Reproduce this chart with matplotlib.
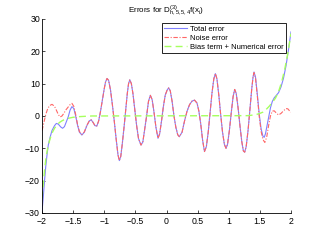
import matplotlib.pyplot as plt

plt.rcParams['font.family'] = ['Liberation Sans', 'DejaVu Sans']
plt.rcParams['mathtext.fontset'] = 'custom'
plt.rcParams['mathtext.rm'] = 'Liberation Sans'
plt.rcParams['mathtext.it'] = 'Liberation Sans'

# Total error (blue)
x_total = [-2.00, -1.98, -1.96, -1.94, -1.92, -1.90, -1.87, -1.84, -1.80, -1.77,
           -1.74, -1.70, -1.67, -1.64, -1.61, -1.58, -1.55, -1.52, -1.49, -1.46,
           -1.43, -1.40, -1.36, -1.32, -1.28, -1.24, -1.21, -1.18, -1.15, -1.12,
           -1.09, -1.06, -1.03, -1.00, -0.98, -0.956, -0.93, -0.90, -0.87, -0.84,
           -0.81, -0.78, -0.758, -0.735, -0.71, -0.68, -0.655, -0.63, -0.61, -0.59,
           -0.565, -0.54, -0.51, -0.48, -0.45, -0.41, -0.38, -0.35, -0.32, -0.29,
           -0.26, -0.23, -0.20, -0.17, -0.137, -0.11, -0.08, -0.05, -0.02, 0.01,
           0.035, 0.06, 0.09, 0.12, 0.15, 0.18, 0.206, 0.25, 0.29, 0.33,
           0.37, 0.41, 0.45, 0.49, 0.52, 0.55, 0.58, 0.61, 0.64, 0.67,
           0.70, 0.73, 0.76, 0.785, 0.81, 0.84, 0.87, 0.90, 0.93, 0.956,
           0.98, 1.01, 1.04, 1.07, 1.095, 1.12, 1.15, 1.18, 1.21, 1.235,
           1.256, 1.28, 1.31, 1.34, 1.37, 1.39, 1.406, 1.43, 1.46, 1.49,
           1.52, 1.55, 1.57, 1.59, 1.62, 1.65, 1.67, 1.70, 1.73, 1.77,
           1.80, 1.84, 1.88, 1.92, 1.96, 2.00]
y_total = [-29.5, -25.0, -20.0, -15.5, -12.0, -9.0, -6.5, -4.5, -3.0, -2.3,
           -2.5, -3.4, -3.8, -3.3, -1.8, -0.3, 1.8, 2.9, 2.3, 0.0,
           -2.8, -5.0, -5.9, -5.0, -3.0, -1.5, -1.2, -2.0, -3.0, -3.1,
           -1.5, 1.5, 5.0, 8.5, 10.5, 11.6, 11.0, 8.0, 3.5, -1.5,
           -7.0, -12.0, -13.8, -12.5, -8.5, -3.0, 2.0, 7.0, 10.0, 11.2,
           10.0, 7.0, 2.0, -3.0, -7.0, -9.0, -8.0, -4.0, 0.0, 4.5,
           6.4, 5.0, 1.0, -3.5, -6.9, -5.5, -1.5, 3.0, 6.5, 8.0,
           8.7, 7.8, 4.5, 0.0, -3.5, -5.8, -6.4, -5.0, -1.5, 1.5,
           3.5, 4.6, 4.9, 4.0, 1.5, -2.5, -7.5, -11.0, -9.5, -5.0,
           1.0, 7.0, 11.5, 13.1, 11.5, 6.5, 0.5, -5.0, -8.8, -10.0,
           -8.8, -4.5, 1.0, 6.0, 8.2, 7.0, 2.5, -3.0, -8.0, -10.8,
           -11.2, -9.5, -4.5, 2.0, 8.5, 12.0, 13.6, 12.0, 6.5, 0.5,
           -4.0, -6.3, -6.6, -5.5, -2.5, 0.5, 2.5, 4.5, 5.6, 6.5,
           7.2, 9.0, 11.7, 15.5, 20.5, 26.0]

# Noise error (red, dash-dot)
x_noise = [-2.00, -1.97, -1.94, -1.91, -1.88, -1.84, -1.80, -1.77, -1.74, -1.71,
           -1.68, -1.65, -1.62, -1.58, -1.55, -1.52, -1.49, -1.46, -1.43, -1.40,
           -1.36, -1.32, -1.28, -1.24, -1.21, -1.18, -1.15, -1.12, -1.09, -1.06,
           -1.03, -1.00, -0.98, -0.956, -0.93, -0.90, -0.87, -0.84, -0.81, -0.78,
           -0.758, -0.735, -0.71, -0.68, -0.655, -0.63, -0.61, -0.59, -0.565, -0.54,
           -0.51, -0.48, -0.45, -0.41, -0.38, -0.35, -0.32, -0.29, -0.26, -0.23,
           -0.20, -0.17, -0.137, -0.11, -0.08, -0.05, -0.02, 0.01, 0.035, 0.06,
           0.09, 0.12, 0.15, 0.18, 0.206, 0.25, 0.29, 0.33, 0.37, 0.41,
           0.45, 0.49, 0.52, 0.55, 0.58, 0.61, 0.64, 0.67, 0.70, 0.73,
           0.76, 0.785, 0.81, 0.84, 0.87, 0.90, 0.93, 0.956, 0.98, 1.01,
           1.04, 1.07, 1.095, 1.12, 1.15, 1.18, 1.21, 1.235, 1.256, 1.28,
           1.31, 1.34, 1.37, 1.39, 1.406, 1.43, 1.46, 1.49, 1.52, 1.55,
           1.58, 1.61, 1.64, 1.67, 1.70, 1.73, 1.76, 1.80, 1.84, 1.88,
           1.92, 1.95, 1.98, 2.00]
y_noise = [-4.5, -2.0, 0.5, 2.2, 3.2, 3.6, 3.0, 1.8, 0.5, -0.3,
           0.0, 0.8, 1.8, 2.8, 3.5, 3.9, 3.0, 0.5, -2.6, -4.8,
           -5.7, -4.9, -2.9, -1.5, -1.2, -2.0, -3.0, -3.1, -1.5, 1.5,
           5.0, 8.5, 10.5, 11.6, 11.0, 8.0, 3.5, -1.5, -7.0, -12.0,
           -13.8, -12.5, -8.5, -3.0, 2.0, 7.0, 10.0, 11.2, 10.0, 7.0,
           2.0, -3.0, -7.0, -9.0, -8.0, -4.0, 0.0, 4.5, 6.4, 5.0,
           1.0, -3.5, -6.9, -5.5, -1.5, 3.0, 6.5, 8.0, 8.7, 7.8,
           4.5, 0.0, -3.5, -5.8, -6.4, -5.0, -1.5, 1.5, 3.5, 4.6,
           4.9, 4.0, 1.5, -2.5, -7.5, -11.0, -9.5, -5.0, 1.0, 7.0,
           11.5, 13.1, 11.5, 6.5, 0.5, -5.0, -8.8, -10.0, -8.8, -4.5,
           1.0, 6.0, 8.2, 7.0, 2.5, -3.0, -8.0, -10.8, -11.2, -9.5,
           -4.5, 2.0, 8.5, 12.0, 13.4, 11.7, 6.0, -0.2, -4.8, -7.3,
           -8.2, -6.5, -3.0, 0.0, 1.5, 1.6, 1.0, 0.3, 0.8, 1.6,
           2.3, 2.2, 1.5, 1.2]

# Bias term + Numerical error (green, dashed)
x_bias = [-2.00, -1.98, -1.96, -1.94, -1.92, -1.90, -1.87, -1.84, -1.80, -1.76,
          -1.72, -1.68, -1.64, -1.60, -1.55, -1.50, -1.45, -1.40, -1.30, -1.20,
          1.30, 1.40, 1.45, 1.50, 1.55, 1.60, 1.65, 1.70, 1.75, 1.80,
          1.85, 1.90, 1.95, 2.00]
y_bias = [-25.5, -21.0, -17.0, -13.5, -11.0, -9.0, -7.0, -5.3, -3.8, -2.8,
          -2.0, -1.5, -1.1, -0.8, -0.6, -0.4, -0.3, -0.2, -0.1, 0.0,
          0.1, 0.3, 0.5, 0.8, 1.2, 2.0, 3.0, 4.2, 5.5, 7.5,
          10.5, 14.5, 19.5, 25.5]

plt.figure(figsize=(3.21, 2.42), dpi=100)
ax = plt.axes([0.131, 0.12, 0.7755, 0.8015])
ax.plot(x_total, y_total, color='#8080ff', lw=0.8, label='Total error')
ax.plot(x_noise, y_noise, color='#ff6666', lw=0.8, dashes=(4, 1.5, 1, 1.5), label='Noise error')
ax.plot(x_bias, y_bias, color='#a6ff5e', lw=1.0, dashes=(5, 3), label='Bias term + Numerical error')

ax.set_xlim(-2, 2)
ax.set_ylim(-30, 30)
ax.set_xticks([-2, -1.5, -1, -0.5, 0, 0.5, 1, 1.5, 2])
ax.set_xticklabels(['\u22122', '\u22121.5', '\u22121', '\u22120.5', '0', '0.5', '1', '1.5', '2'])
ax.set_yticks([-30, -20, -10, 0, 10, 20, 30])
ax.set_yticklabels(['\u221230', '\u221220', '\u221210', '0', '10', '20', '30'])
ax.tick_params(direction='in', length=2.5, width=0.5, labelsize=6.3)
ax.tick_params(axis='x', pad=3)
ax.tick_params(axis='y', pad=1.5)
ax.spines['top'].set_visible(False)
ax.spines['right'].set_visible(False)
for s in ['left', 'bottom']:
    ax.spines[s].set_linewidth(0.6)
ax.set_title(r'Errors for D$^{(3)}_{h,5,5,4}$f(x$_i$)', fontsize=5.8, pad=4)

leg = ax.legend(loc='upper right', bbox_to_anchor=(0.98, 0.98), fontsize=5.5,
                fancybox=False, edgecolor='black', framealpha=1,
                handlelength=3.0, handletextpad=0.4, labelspacing=0.25,
                borderpad=0.3, borderaxespad=0)
leg.get_frame().set_linewidth(0.6)

plt.savefig('out.png', dpi=100)
